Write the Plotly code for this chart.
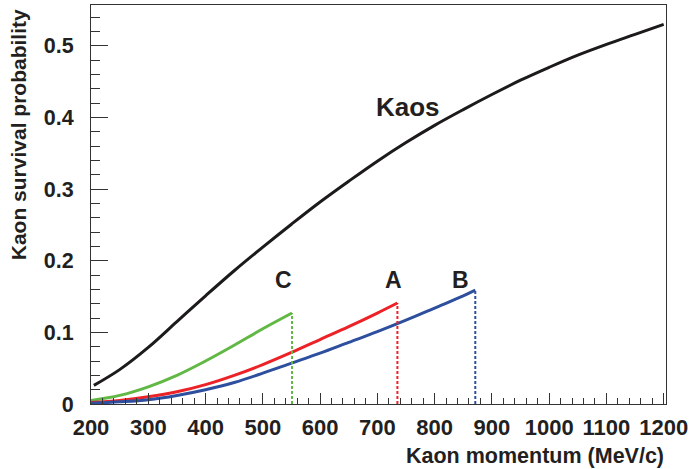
import plotly.graph_objects as go

# ---- data ----
kaos_p = [205, 250, 300, 350, 400, 450, 500, 550, 600, 650, 700, 750, 800, 850, 900, 950, 1000, 1050, 1100, 1150, 1200]
kaos_v = [0.026, 0.048, 0.079, 0.115, 0.151, 0.186, 0.219, 0.251, 0.282, 0.311, 0.339, 0.365, 0.389, 0.411, 0.432, 0.452, 0.470, 0.487, 0.502, 0.516, 0.530]

c_p = [200, 250, 300, 350, 400, 450, 500, 551]
c_v = [0.005, 0.012, 0.024, 0.040, 0.060, 0.082, 0.105, 0.127]

a_p = [200, 250, 300, 350, 400, 450, 500, 550, 600, 650, 700, 735]
a_v = [0.002, 0.005, 0.010, 0.017, 0.027, 0.040, 0.055, 0.072, 0.090, 0.108, 0.127, 0.141]

b_p = [200, 250, 300, 350, 400, 450, 500, 550, 600, 650, 700, 750, 800, 850, 871]
b_v = [0.001, 0.003, 0.006, 0.012, 0.020, 0.030, 0.043, 0.057, 0.071, 0.086, 0.101, 0.117, 0.134, 0.151, 0.159]

labels = ["Kaos", "C", "A", "B"]
label_p = [753, 536, 728, 846]
label_v = [0.414, 0.173, 0.173, 0.173]

x_ticks = [200, 300, 400, 500, 600, 700, 800, 900, 1000, 1100, 1200]
y_ticks = [0, 0.1, 0.2, 0.3, 0.4, 0.5]
y_ticktext = ["0", "0.1", "0.2", "0.3", "0.4", "0.5"]

BLACK = "#1c1a1b"
GREEN = "#62b845"
RED = "#ec2227"
BLUE = "#2d4f9e"
FONT = "Liberation Sans"
TXT = "#231f20"

fig = go.Figure()

def curve(xs, ys, color):
    fig.add_trace(go.Scatter(x=xs, y=ys, mode="lines", line=dict(color=color, width=3, shape="spline", smoothing=1.0),
                             showlegend=False, hoverinfo="skip"))

def drop(xs, ys, color):
    fig.add_trace(go.Scatter(x=[xs[-1], xs[-1]], y=[0, ys[-1]], mode="lines",
                             line=dict(color=color, width=2, dash="3px,2px"),
                             showlegend=False, hoverinfo="skip"))

curve(kaos_p, kaos_v, BLACK)
curve(c_p, c_v, GREEN)
curve(a_p, a_v, RED)
curve(b_p, b_v, BLUE)
drop(c_p, c_v, GREEN)
drop(a_p, a_v, RED)
drop(b_p, b_v, BLUE)

for t, px, pv, sz in zip(labels, label_p, label_v, [26, 23, 23, 23]):
    fig.add_annotation(x=px, y=pv, text=t, showarrow=False, xanchor="center", yanchor="middle",
                       font=dict(family=FONT, size=sz, color=TXT, weight="bold"))

fig.add_annotation(xref="paper", yref="paper", x=1.0, y=-0.13, text="Kaon momentum (MeV/c)",
                   showarrow=False, xanchor="right", yanchor="middle",
                   font=dict(family=FONT, size=21.5, color=TXT, weight="bold"))
fig.add_annotation(xref="paper", yref="paper", x=-0.1246, y=0.994, text="Kaon survival probability",
                   showarrow=False, xanchor="center", yanchor="top", textangle=-90,
                   font=dict(family=FONT, size=21, color=TXT, weight="bold"))

fig.update_xaxes(range=[200, 1204], tickvals=x_ticks, ticks="inside", ticklen=11, tickwidth=1.2,
                 tickcolor="#333", showline=True, linecolor="#333", linewidth=1.2, mirror=True,
                 showgrid=False, zeroline=False, ticklabelstandoff=3,
                 tickfont=dict(family=FONT, size=22, color=TXT, weight="bold"),
                 minor=dict(dtick=20, ticks="inside", ticklen=6, tickwidth=1.2, tickcolor="#333", showgrid=False))
fig.update_yaxes(range=[0, 0.557], tickvals=y_ticks, ticktext=y_ticktext, ticks="inside", ticklen=17,
                 tickwidth=1.2, tickcolor="#333", showline=True, linecolor="#333", linewidth=1.2, mirror=True,
                 showgrid=False, zeroline=False, ticklabelstandoff=12,
                 tickfont=dict(family=FONT, size=21.5, color=TXT, weight="bold"),
                 minor=dict(dtick=0.02, ticks="inside", ticklen=9, tickwidth=1.2, tickcolor="#333", showgrid=False))

fig.update_layout(width=692, height=469, margin=dict(l=91, r=26, t=5, b=65),
                  plot_bgcolor="white", paper_bgcolor="white")

fig.write_html("out.html")
